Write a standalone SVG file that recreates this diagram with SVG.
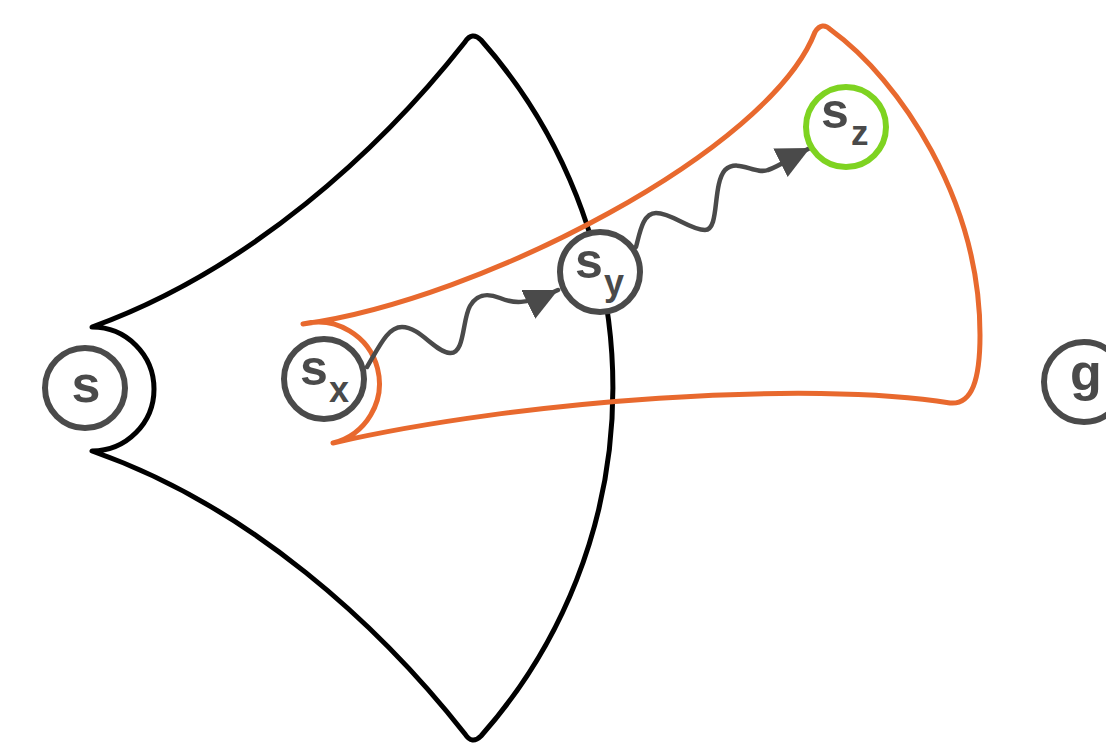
<svg xmlns="http://www.w3.org/2000/svg" width="1106" height="748" viewBox="0 0 1106 748">
<style>
.region{fill:none;stroke-width:5;stroke-linejoin:round;stroke-linecap:round}
.node{fill:#fff;stroke-width:6}
.lbl{font-family:"Liberation Sans",Arial,sans-serif;font-weight:bold;fill:#4a4a4a}
.wave{fill:none;stroke:#4a4a4a;stroke-width:4.5;stroke-linecap:round}
</style>
<defs>
<marker id="arr" markerUnits="userSpaceOnUse" markerWidth="40" markerHeight="40" refX="33" refY="16" orient="auto">
<path d="M0,0 L33,16 L0,32 Z" fill="#4a4a4a"/>
</marker>
</defs>
<rect width="1106" height="748" fill="#fff"/>
<g id="reach-s">
<path class="region" stroke="#000" d="M92 327 C250 270 380 150 465 42 Q472 31 481 40 A525 525 0 0 1 481 736 Q472 745 465 734 C380 626 250 506 92 451 A62 62 0 0 0 92 327 Z"/>
</g>
<g id="reach-sx">
<path class="region" stroke="#e8692e" d="M303 324 C480 300 770 150 815 32 Q822 21 831 30 C900 80 980 200 980 335 C980 380 972 405 950 403 C810 380 520 400 333 443 A61 61 0 1 0 303 324 Z"/>
</g>
<g id="connectors">
<path class="wave" marker-end="url(#arr)" d="M367 367 C380 345 388 327 402 327 C420 327 435 352 450 353 C465 354 462 320 470 306 C478 292 490 294 500 298 C512 303 525 306 558 290"/>
<path class="wave" marker-end="url(#arr)" d="M636 247 C640 232 643 213 656 213 C672 213 690 230 705 230 C720 230 712 185 725 170 C738 158 755 175 768 170 C780 166 790 158 810 148"/>
</g>
<g id="node-s">
<circle class="node" cx="85" cy="388" r="40" stroke="#4a4a4a"/>
<text class="lbl" x="86" y="402" font-size="52" text-anchor="middle">s</text>
</g>
<g id="node-sx">
<circle class="node" cx="324" cy="379" r="40" stroke="#4a4a4a"/>
<text class="lbl" x="300" y="385" font-size="50">s<tspan x="329" y="402" font-size="36">x</tspan></text>
</g>
<g id="node-sy">
<circle class="node" cx="600" cy="272" r="40" stroke="#4a4a4a"/>
<text class="lbl" x="575" y="278" font-size="50">s<tspan x="604" y="295" font-size="36">y</tspan></text>
</g>
<g id="node-sz">
<circle class="node" cx="846" cy="127" r="40" stroke="#7ed321"/>
<text class="lbl" x="821" y="128" font-size="50">s<tspan x="851" y="145" font-size="35">z</tspan></text>
</g>
<g id="node-g">
<circle class="node" cx="1084" cy="382" r="40" stroke="#4a4a4a"/>
<text class="lbl" x="1070" y="390" font-size="52">g</text>
</g>
</svg>
